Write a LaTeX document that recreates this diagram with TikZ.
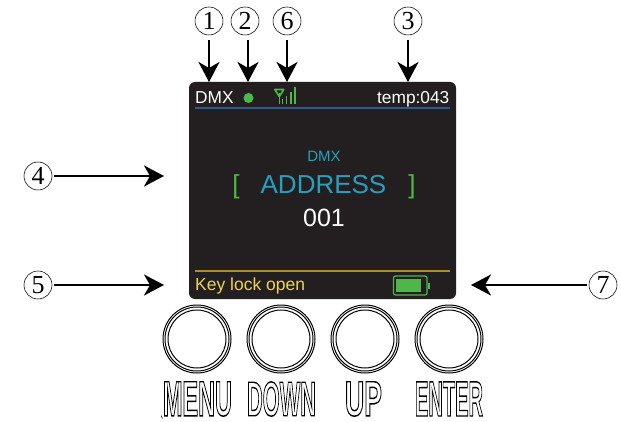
\documentclass[tikz,border=0pt]{standalone}
\usepackage{fontspec}
\usepackage{graphicx}
\setmainfont{Liberation Sans}
\newfontfamily\serifnum{Liberation Serif}
\usetikzlibrary{arrows.meta}
\definecolor{panel}{HTML}{231F20}
\definecolor{rulebl}{HTML}{2A5C8F}
\definecolor{ruleye}{HTML}{A8902F}
\definecolor{lcdgreen}{HTML}{4DB848}
\definecolor{lcdblue}{HTML}{27A0C0}
\definecolor{lcdyellow}{HTML}{EBD64A}
\newcommand{\outl}[3]{\resizebox{#1pt}{#2pt}{\special{pdf:literal 1 Tr 0.6 w}\fontsize{20pt}{20pt}\selectfont\bfseries #3\special{pdf:literal 0 Tr 0 w}}}
\tikzset{
  x=1pt,y=-1pt,
  num/.style={circle,draw,line width=0.55pt,minimum size=28pt,inner sep=0pt,font=\serifnum\fontsize{26pt}{26pt}\selectfont},
  callout/.style={line width=2.3pt,-{Stealth[length=20pt,width=21pt,inset=6pt]}},
  lcd/.style={inner sep=0pt,anchor=base west,font=\fontsize{17.3pt}{18pt}\selectfont},
  knob/.style={circle,draw,line width=1pt,inner sep=0pt,minimum size=#1},
  keylabel/.style={inner sep=0pt},
}
\begin{document}
\begin{tikzpicture}
\useasboundingbox (0,0) rectangle (621,422);
\fill[white] (0,0) rectangle (621,422);
\node[draw=none,fill=panel,rounded corners=6pt,minimum width=267pt,minimum height=217pt,inner sep=0pt] (screen) at (322.5,190.5) {};
% callouts
\node[num] (n1) at (209,21) {1};
\node[num] (n2) at (245,21) {2};
\node[num] (n6) at (287,21) {6};
\node[num] (n3) at (408,21) {3};
\node[num] (n4) at (38,176) {4};
\node[num] (n5) at (38,285) {5};
\node[num] (n7) at (603,285) {7};
\coordinate (t1) at (209,82);
\coordinate (s2) at (248,40);
\coordinate (t2) at (248,82);
\coordinate (t6) at (287,82);
\coordinate (t3) at (408,82);
\coordinate (t4) at (164,176);
\coordinate (t5) at (164,285);
\coordinate (t7) at (471,285);
\draw[callout,shorten <=5pt] (n1) -- (t1);
\draw[callout] (s2) -- (t2);
\draw[callout,shorten <=5pt] (n6) -- (t6);
\draw[callout,shorten <=5pt] (n3) -- (t3);
\draw[callout,shorten <=2pt] (n4) -- (t4);
\draw[callout,shorten <=2pt] (n5) -- (t5);
\draw[callout,shorten <=2pt] (n7) -- (t7);
% status bar
\node[lcd,text=white] (dmx) at (195,104) {DMX};
\fill[lcdgreen] (248.5,98) circle (5);
\node[lcd,text=white,anchor=base east] (temp) at (449.5,104) {temp:043};
\draw[rulebl,line width=1.2pt] (195,108) -- (450,108);
% antenna
\draw[lcdgreen,line width=1.6pt,line join=round] (274.8,89.5) -- (283.8,89.5) -- (279.3,96.5) -- cycle;
\draw[lcdgreen,line width=1.5pt] (279.3,93) -- (279.3,104.5);
\foreach \x/\t in {282.5/99,286.5/96.5,290.8/92,295/87}{\draw[lcdgreen,line width=1.5pt] (\x,104.5) -- (\x,\t);}
% centre
\node[text=lcdblue,inner sep=0pt,font=\fontsize{15pt}{16pt}\selectfont] (mode) at (324,156) {DMX};
\node[text=lcdblue,inner sep=0pt,font=\fontsize{26pt}{28pt}\selectfont] (addr) at (323.5,185) {ADDRESS};
\node[text=lcdgreen,inner sep=0pt,font=\fontsize{26pt}{28pt}\selectfont] (lb) at (236,187) {[};
\node[text=lcdgreen,inner sep=0pt,font=\fontsize{26pt}{28pt}\selectfont] (rb) at (412,187) {]};
\node[text=white,inner sep=0pt,font=\fontsize{25pt}{28pt}\selectfont] (val) at (324,218) {001};
% bottom bar
\draw[ruleye,line width=1.2pt] (195,271) -- (450,271);
\node[lcd,text=lcdyellow,font=\fontsize{17.5pt}{18pt}\selectfont] (lock) at (195,290) {Key lock open};
\draw[lcdgreen,line width=1.2pt,rounded corners=2pt] (393.5,276) rectangle (427,295);
\fill[lcdgreen] (396,279) rectangle (421,292);
\fill[lcdgreen] (427.5,282.5) rectangle (429.5,288.5);
% buttons
\foreach \n/\x in {a/197,b/281,c/365,d/449}{
  \node[knob=68pt] (\n o) at (\x,339) {};
  \node[knob=64pt] (\n m) at (\x,339) {};
  \node[knob=58pt] (\n i) at (\x,339) {};
}
\node[keylabel] (menu) at (197.5,399) {\outl{69}{34}{MENU}};
\node[keylabel] (down) at (281.5,399) {\outl{69}{34}{DOWN}};
\node[keylabel] (up) at (363.5,399) {\outl{37}{34}{UP}};
\node[keylabel] (enter) at (449,399) {\outl{68}{34}{ENTER}};
\draw[line width=0.5pt] (161,415.5) -- (162.5,418.5);
\end{tikzpicture}
\end{document}
